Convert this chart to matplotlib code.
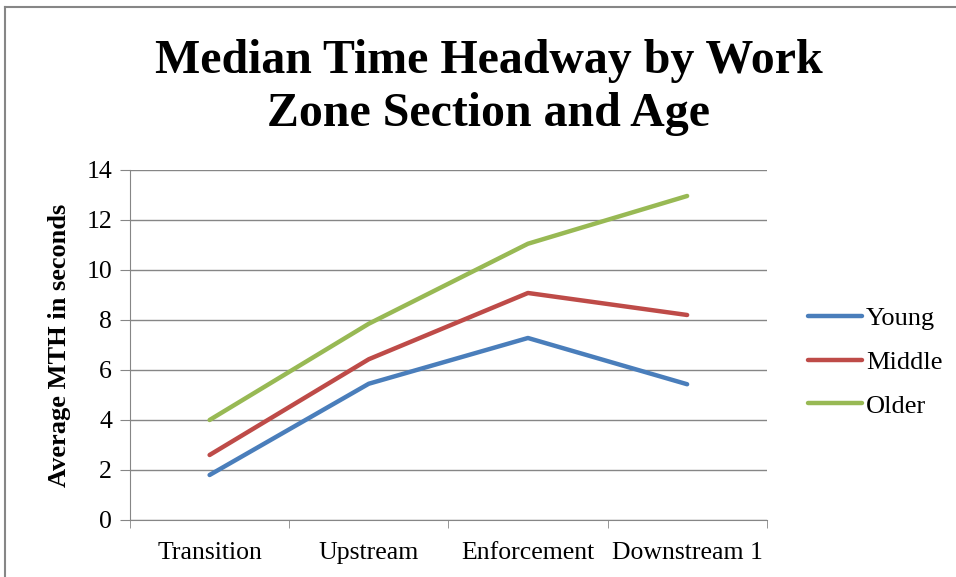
import matplotlib.pyplot as plt
import numpy as np

# data
sections = ['Transition', 'Upstream', 'Enforcement', 'Downstream 1']
young = [1.8, 5.45, 7.28, 5.43]
middle = [2.6, 6.43, 9.08, 8.2]
older = [4.0, 7.85, 11.05, 12.96]

plt.rcParams['font.family'] = 'Liberation Serif'

fig = plt.figure(figsize=(9.56, 5.77), dpi=100)
ax = fig.add_axes([0.136, 0.0988, 0.666, 0.6066])

x = np.arange(len(sections))
ax.plot(x, young, color='#4A7EBB', lw=3.2, solid_capstyle='round', label='Young')
ax.plot(x, middle, color='#BE4B48', lw=3.2, solid_capstyle='round', label='Middle')
ax.plot(x, older, color='#98B954', lw=3.2, solid_capstyle='round', label='Older')

ax.set_xlim(-0.5, len(sections) - 0.5)
ax.set_ylim(0, 14)
ax.set_yticks(range(0, 15, 2))
ax.set_xticks(x)
ax.set_xticklabels(sections, fontsize=18.5)
ax.set_xticks(np.arange(-0.5, len(sections), 1), minor=True)
ax.tick_params(axis='x', which='major', length=0, pad=16)
ax.tick_params(axis='x', which='minor', length=6, color='#868686', direction='out')
ax.tick_params(axis='y', length=7, color='#868686', labelsize=18.5, pad=6)

ax.grid(axis='y', color='#868686', lw=1)
ax.set_axisbelow(True)
for s in ['top', 'right']:
    ax.spines[s].set_visible(False)
for s in ['left', 'bottom']:
    ax.spines[s].set_color('#868686')

ax.set_ylabel('Average MTH in seconds', fontsize=19, fontweight='bold', labelpad=11)

fig.text(0.511, 0.849, 'Median Time Headway by Work\nZone Section and Age',
         ha='center', va='center', fontsize=34.5, fontweight='bold', linespacing=1.27)

ax.legend(loc='center left', bbox_to_anchor=(1.048, 0.451), frameon=False, fontsize=19,
          handlelength=2.05, handletextpad=0.15, labelspacing=0.77, borderaxespad=0)

# outer border of the chart frame
fig.add_artist(plt.Line2D([0.005, 1.0], [0.988, 0.988], color='#868686', lw=1.5))
fig.add_artist(plt.Line2D([0.005, 0.005], [0.0, 0.988], color='#868686', lw=1.5))

fig.savefig('out.png', dpi=100)
